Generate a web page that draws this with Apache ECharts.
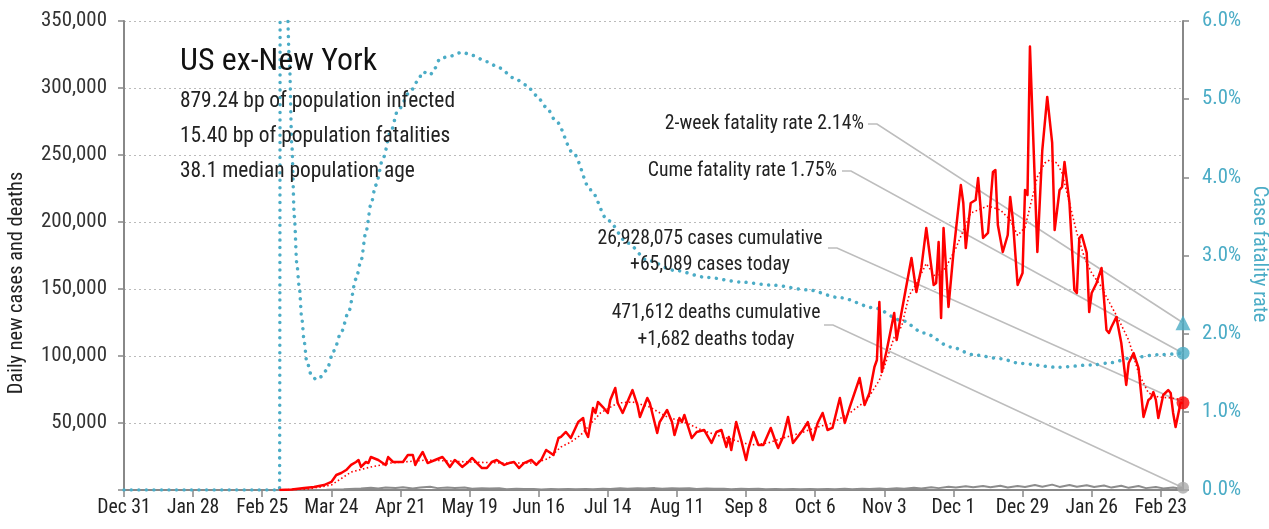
<!DOCTYPE html>
<html><head><meta charset="utf-8">
<script src="https://cdn.jsdelivr.net/npm/echarts@6/dist/echarts.min.js"></script>
<style>html,body{margin:0;padding:0;background:#fff}#c{width:1269px;height:529px}</style>
</head><body><div id="c"></div>
<script>
// x values are days since 2019-12-31
const xTickLabels = ['Dec 31','Jan 28','Feb 25','Mar 24','Apr 21','May 19','Jun 16','Jul 14','Aug 11','Sep 8','Oct 6','Nov 3','Dec 1','Dec 29','Jan 26','Feb 23'];
const LAST_DAY = 429;

const dailyCases = [[63,0],[68,300],[73,1500],[77,2200],[81,3700],[84,6000],[86,11200],[88,12700],[90,14900],[92,18700],[94,20900],[95,22400],[96,17200],[98,20900],[99,20100],[100,24600],[103,22400],[106,18700],[107,24600],[109,20900],[113,20900],[115,26100],[117,26100],[118,18700],[119,22400],[121,28400],[123,20100],[126,22400],[129,24600],[130,22400],[132,17200],[134,22400],[135,20900],[137,17200],[139,20100],[141,23900],[143,20100],[145,16400],[147,16400],[149,20900],[151,22400],[154,18700],[156,20100],[158,20900],[160,16400],[162,20100],[165,22400],[167,18700],[169,22400],[171,29900],[174,26100],[176,38800],[177,39600],[179,43300],[181,38800],[184,50700],[186,53700],[187,43300],[188,39600],[190,61200],[191,57500],[192,65700],[194,61900],[196,57500],[197,67200],[199,76100],[200,64900],[202,57500],[206,74600],[208,63400],[209,54500],[212,68700],[213,64900],[216,42500],[217,50700],[220,59700],[222,50700],[223,41000],[225,53700],[226,50700],[227,56000],[230,38800],[232,43300],[235,44800],[238,35100],[240,43300],[242,44800],[244,32100],[245,39600],[246,29900],[248,50700],[250,37300],[252,22400],[253,31300],[255,43300],[257,33600],[259,33600],[262,46300],[264,35800],[265,31300],[267,39600],[269,54500],[271,35100],[275,44800],[277,50700],[279,37300],[281,50000],[283,57500],[285,44800],[287,46300],[290,68700],[292,50000],[294,61900],[298,83600],[300,63400],[302,72400],[304,91800],[305,97000],[306,140300],[307,88100],[309,104500],[312,132100],[313,111900],[315,132800],[319,173100],[321,147800],[323,165700],[325,195500],[328,153000],[329,154500],[330,185100],[331,128400],[332,195500],[334,136600],[336,176900],[339,227600],[340,214200],[341,180600],[343,214200],[345,216400],[346,232800],[348,188100],[350,191800],[352,237300],[353,238800],[354,197800],[356,177600],[358,190300],[359,218700],[360,203000],[362,153000],[364,161900],[365,223900],[366,220100],[367,331000],[370,177600],[372,253700],[374,293300],[376,259000],[377,194000],[379,223900],[380,226100],[381,244800],[383,214200],[385,149300],[386,147000],[387,188100],[388,190300],[390,176900],[391,132800],[392,147000],[394,154500],[396,165700],[398,119400],[399,117200],[400,121600],[402,129100],[404,109700],[406,78400],[407,94800],[409,102200],[411,91000],[413,54500],[415,67200],[416,68700],[417,73100],[418,67200],[419,53700],[421,70900],[423,74600],[424,72400],[425,57500],[426,47000],[428,64900],[429,65089]];

const avgCases = [[63,0],[75,800],[84,3700],[92,13400],[100,17200],[108,20100],[123,22400],[140,20900],[154,20100],[166,20100],[172,23500],[177,32100],[181,35800],[185,41000],[193,57500],[200,64900],[206,65700],[213,61900],[220,54500],[227,50700],[234,44800],[240,41000],[247,37300],[254,33600],[261,35100],[267,38800],[274,42500],[281,47000],[287,50000],[294,57500],[301,67200],[306,82000],[308,92000],[312,114000],[315,122000],[318,145000],[321,154000],[325,169000],[329,158000],[333,166400],[337,180600],[343,206700],[346,209000],[350,212000],[355,209000],[359,201500],[362,190000],[365,196000],[367,211200],[370,233600],[373,244000],[375,246300],[378,244000],[380,236600],[383,214200],[386,191800],[389,173900],[392,161900],[396,151500],[398,144000],[403,126900],[407,111900],[411,87300],[415,72400],[419,69400],[424,68700],[429,67200]];

const dailyDeaths = [[63,0],[75,50],[82,200],[89,600],[96,1200],[100,1600],[103,1100],[106,1900],[110,1500],[113,2100],[117,1200],[120,1900],[124,2500],[127,1400],[131,1800],[134,1500],[138,1800],[141,1000],[145,1400],[148,1100],[152,1300],[155,600],[159,900],[162,700],[166,800],[169,400],[173,700],[176,500],[180,700],[183,500],[187,800],[190,600],[194,1000],[197,800],[201,1300],[204,1000],[208,1400],[211,1100],[215,1400],[218,900],[222,1300],[225,1100],[229,1300],[232,700],[236,1100],[239,900],[243,1000],[246,500],[250,1000],[253,700],[257,900],[260,600],[264,800],[267,500],[271,800],[274,600],[278,800],[281,500],[285,800],[288,600],[292,900],[295,600],[299,1000],[302,700],[306,1100],[309,800],[313,1300],[316,1000],[320,1600],[323,1200],[327,2000],[330,1400],[334,2500],[337,1800],[341,2800],[344,2100],[348,3000],[351,2100],[355,3200],[358,1800],[362,3000],[365,2300],[369,3700],[372,2500],[376,4000],[379,2300],[383,3700],[386,2400],[390,3500],[393,2200],[397,3400],[400,1800],[404,3200],[407,1600],[411,3000],[414,1400],[418,2300],[421,1200],[425,1900],[427,1300],[429,1682]];

// case fatality rate, percent
const fatalityRate = [[0,0],[63,0],[64,40],[65,12],[66,6.3],[67,5.5],[68,4.4],[69,3.5],[70,2.9],[71,2.6],[72,2.2],[73,1.9],[74,1.65],[76,1.46],[78,1.41],[80,1.45],[82,1.53],[85,1.78],[88,2.02],[91,2.28],[94,2.7],[96,2.93],[98,3.3],[100,3.65],[102,3.9],[105,4.25],[108,4.58],[111,4.86],[116,5.1],[119,5.23],[121,5.35],[124,5.31],[126,5.4],[128,5.52],[132,5.55],[137,5.6],[141,5.56],[147,5.48],[152,5.4],[158,5.27],[163,5.18],[167,5.05],[171,4.9],[175,4.72],[182,4.31],[189,3.84],[196,3.45],[204,3.16],[212,2.94],[223,2.81],[236,2.72],[250,2.66],[263,2.62],[277,2.56],[290,2.46],[304,2.33],[315,2.17],[324,2.01],[335,1.83],[344,1.73],[355,1.68],[363,1.62],[378,1.57],[392,1.6],[400,1.63],[408,1.69],[419,1.73],[429,1.75]];

const twoWeekRate = 2.14;
const cumeRate = 1.75;
const casesCumulative = 26928075;
const casesToday = 65089;
const deathsCumulative = 471612;
const deathsToday = 1682;
const statLines = ['879.24 bp of population infected','15.40 bp of population fatalities','38.1 median population age'];
const titleText = 'US ex-New York';
const leftAxisName = 'Daily new cases and deaths';
const rightAxisName = 'Case fatality rate';

// ---------- font selection (prefer a condensed face) ----------
const mctx = document.createElement('canvas').getContext('2d');
const SAMPLE = 'abcdefghijklmnopqrstuvwxyz ABCDEFGHIJ 0123456789';
function wOf(font) { mctx.font = font; return mctx.measureText(SAMPLE).width; }
let FAMILY = null, PRE = '';
for (const f of ['Roboto Condensed', 'Noto Sans Condensed', 'DejaVu Sans Condensed', 'Liberation Sans Narrow', 'Open Sans Condensed', 'Noto Sans Display Condensed']) {
  if (wOf("40px '" + f + "', monospace") !== wOf('40px monospace')) { FAMILY = "'" + f + "'"; break; }
}
if (!FAMILY) {
  for (const f of ['Noto Sans', 'Open Sans', 'Roboto']) {
    const n = wOf("40px '" + f + "'"), c = wOf("condensed 40px '" + f + "'");
    if (c < n * 0.95) { FAMILY = "'" + f + "'"; PRE = 'condensed '; break; }
  }
}
if (!FAMILY) FAMILY = "'Roboto'";
const FONT = FAMILY + ', sans-serif';
function textW(t, size) { mctx.font = PRE + size + 'px ' + FONT; return mctx.measureText(t).width; }
function fit(samples) { let tw = 0, mw = 0; samples.forEach(s => { tw += s[1]; mw += textW(s[0], 100); }); return Math.round(100 * tw / mw * 10) / 10; }

const fmt = n => n.toLocaleString('en-US');
const ann2w = '2-week fatality rate ' + twoWeekRate.toFixed(2) + '%';
const annCume = 'Cume fatality rate ' + cumeRate.toFixed(2) + '%';
const annC1 = fmt(casesCumulative) + ' cases cumulative', annC2 = '+' + fmt(casesToday) + ' cases today';
const annD1 = fmt(deathsCumulative) + ' deaths cumulative', annD2 = '+' + fmt(deathsToday) + ' deaths today';

const S_TITLE = fit([[titleText, 197]]);
const S_STAT = fit([[statLines[0], 277], [statLines[1], 271], [statLines[2], 232]]);
const S_ANN = fit([[ann2w, 198], [annCume, 186], [annC1, 226], [annC2, 162], [annD1, 208], [annD2, 158]]);
const S_NAME = fit([[leftAxisName, 225], [rightAxisName, 135]]);
const S_YL = fit([['350,000', 66], ['300,000', 66]]);
const S_XL = fit([['Dec 31', 52], ['Feb 23', 54], ['Aug 11', 54]]);
const S_YR = fit([['6.0%', 39], ['0.0%', 39]]);
const WEIGHT = PRE ? 'condensed' : 'normal';

const TEAL = '#4bacc6', RED = '#ff0000', GRAY = '#8c8c8c';
const chart = echarts.init(document.getElementById('c'), null, {renderer: 'canvas'});
const xTicks = xTickLabels.map((_, i) => i * 28);

chart.setOption({
  animation: false,
  backgroundColor: '#fff',
  textStyle: {fontFamily: FONT},
  grid: {left: 124, right: 86, top: 21, bottom: 39},
  xAxis: {
    type: 'value', min: 0, max: LAST_DAY,
    axisLine: {lineStyle: {color: '#888', width: 2}},
    axisTick: {customValues: xTicks, length: 7, lineStyle: {color: '#888', width: 1.5}},
    axisLabel: {customValues: xTicks, formatter: v => xTickLabels[Math.round(v / 28)], color: '#222', fontSize: S_XL, fontFamily: FONT, fontWeight: WEIGHT, margin: 8},
    splitLine: {show: false}
  },
  yAxis: [{
    type: 'value', min: 0, max: 350000, interval: 50000,
    axisLine: {show: true, lineStyle: {color: '#888', width: 2}},
    axisTick: {show: true, length: 6, lineStyle: {color: '#888', width: 1.5}},
    axisLabel: {formatter: v => v === 0 ? '' : fmt(v), color: '#333', fontSize: S_YL, fontFamily: FONT, fontWeight: WEIGHT, margin: 17},
    splitLine: {lineStyle: {type: [2, 3], color: '#bbb', width: 1}}
  }, {
    type: 'value', position: 'right', min: 0, max: 6, interval: 1,
    axisLine: {show: true, lineStyle: {color: '#888', width: 2}},
    axisTick: {show: true, length: 6, lineStyle: {color: '#888', width: 1.5}},
    axisLabel: {formatter: v => v.toFixed(1) + '%', color: TEAL, fontSize: S_YR, fontFamily: FONT, fontWeight: WEIGHT, margin: 19},
    splitLine: {show: false}
  }],
  series: [
    {type: 'line', yAxisIndex: 1, data: fatalityRate, showSymbol: false, smooth: 0.3, smoothMonotone: 'x', z: 2,
     lineStyle: {color: TEAL, width: 3.5, type: [0.01, 7.5], cap: 'round'}},
    {type: 'line', data: dailyDeaths, showSymbol: false, z: 3, lineStyle: {color: GRAY, width: 2}},
    {type: 'line', data: avgCases, showSymbol: false, z: 4, lineStyle: {color: RED, width: 1.6, type: [1.5, 2.5]}},
    {type: 'line', data: dailyCases, showSymbol: false, z: 5, lineStyle: {color: RED, width: 2.5, join: 'round'}},
    {type: 'scatter', yAxisIndex: 1, clip: false, z: 6, symbol: 'triangle', symbolSize: 15, itemStyle: {color: TEAL}, data: [[LAST_DAY, twoWeekRate]]},
    {type: 'scatter', yAxisIndex: 1, clip: false, z: 6, symbol: 'circle', symbolSize: 13, itemStyle: {color: TEAL}, data: [[LAST_DAY, cumeRate]]},
    {type: 'scatter', clip: false, z: 6, symbol: 'circle', symbolSize: 13, itemStyle: {color: RED}, data: [[LAST_DAY, casesToday]]},
    {type: 'scatter', clip: false, z: 6, symbol: 'circle', symbolSize: 12, itemStyle: {color: '#aaa'}, data: [[LAST_DAY, deathsToday]]}
  ]
});

const px = (axis, v) => chart.convertToPixel({xAxisIndex: 0, yAxisIndex: axis}, [LAST_DAY, v]);
const txt = (x, y, text, size, align, color, extra) => Object.assign({
  type: 'text', x: x, y: y, z: 10, silent: true,
  style: {text: text, font: PRE + size + 'px ' + FONT, fill: color || '#222', align: align || 'left', verticalAlign: 'middle'}
}, extra || {});
const leader = (x, y, end) => ({
  type: 'polyline', z: 1, silent: true,
  shape: {points: [[x, y], [x + 9, y], end]},
  style: {stroke: '#bdbdbd', lineWidth: 1.6, fill: null}
});

chart.setOption({graphic: [
  txt(180, 62, titleText, S_TITLE, 'left', '#111'),
  txt(180, 102, statLines[0], S_STAT, 'left', '#222'),
  txt(180, 137, statLines[1], S_STAT, 'left', '#222'),
  txt(180, 172, statLines[2], S_STAT, 'left', '#222'),
  txt(864, 124, ann2w, S_ANN, 'right'),
  txt(837, 171, annCume, S_ANN, 'right'),
  txt(710, 239, annC1, S_ANN, 'center'),
  txt(710, 265, annC2, S_ANN, 'center'),
  txt(716, 313, annD1, S_ANN, 'center'),
  txt(716, 340, annD2, S_ANN, 'center'),
  txt(17, 283, leftAxisName, S_NAME, 'center', '#222', {rotation: Math.PI / 2}),
  txt(1259, 254, rightAxisName, S_NAME, 'center', TEAL, {rotation: -Math.PI / 2}),
  leader(868, 124, px(1, twoWeekRate)),
  leader(842, 171, px(1, cumeRate)),
  leader(828, 248, px(0, casesToday)),
  leader(824, 325, px(0, deathsToday))
]});
</script></body></html>
